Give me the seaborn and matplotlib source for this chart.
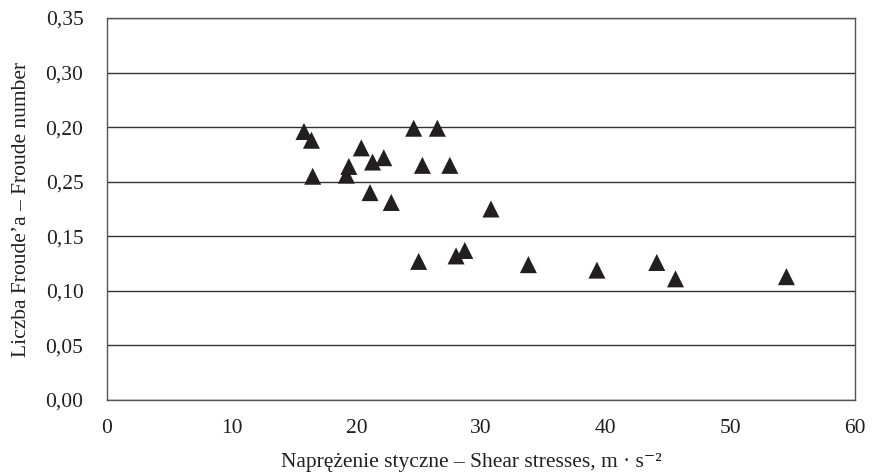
import matplotlib
matplotlib.use("Agg")
import matplotlib.pyplot as plt
import seaborn as sns
import pandas as pd

shear = [15.8, 16.4, 16.5, 19.2, 19.4, 20.4, 21.1, 21.3, 22.2, 22.8, 24.6, 25.0,
         25.3, 26.5, 27.5, 28.0, 28.7, 30.8, 33.8, 39.3, 44.1, 45.6, 54.5]
froude = [0.246, 0.238, 0.205, 0.206, 0.214, 0.231, 0.190, 0.218, 0.222, 0.181, 0.249, 0.127,
          0.215, 0.249, 0.215, 0.132, 0.137, 0.175, 0.124, 0.119, 0.126, 0.111, 0.113]
x_ticks = [0, 10, 20, 30, 40, 50, 60]
y_ticks = [0.00, 0.05, 0.10, 0.15, 0.20, 0.25, 0.30, 0.35]
y_tick_labels = ["0,00", "0,05", "0,10", "0,15", "0,25", "0,20", "0,30", "0,35"]
x_label = "Naprężenie styczne – Shear stresses, m · s⁻²"
y_label = "Liczba Froude’a – Froude number"

df = pd.DataFrame({"shear": shear, "froude": froude})

sns.set_style("white")
plt.rcParams["font.family"] = ["Liberation Serif", "DejaVu Serif"]

FS = 15.5
fig = plt.figure(figsize=(8.94, 4.76), dpi=100)
ax = fig.add_axes([107/894, 1-400/476, (855-107)/894, (400-18)/476])

sns.scatterplot(data=df, x="shear", y="froude", marker="^", s=150,
                color="#231f20", edgecolor="none", ax=ax, zorder=3)

ax.set_xlim(0, 60)
ax.set_ylim(0, 0.35)
ax.set_xticks(x_ticks)
ax.set_xticklabels([str(t) for t in x_ticks], fontsize=FS, color="#231f20")
ax.set_yticks(y_ticks)
ax.set_yticklabels(y_tick_labels, fontsize=FS, color="#231f20")
ax.tick_params(axis="both", length=0)
ax.tick_params(axis="y", pad=17)
ax.tick_params(axis="x", pad=14)

ax.grid(axis="y", color="#333333", linewidth=1.0)
ax.grid(axis="x", visible=False)
ax.set_axisbelow(True)
for sp in ax.spines.values():
    sp.set_visible(True)
    sp.set_color("#555555")
    sp.set_linewidth(1.0)

ax.set_xlabel(x_label, fontsize=FS, color="#231f20")
ax.set_ylabel(y_label, fontsize=FS, color="#231f20")
ax.xaxis.set_label_coords((471-107)/748, -(453-400)/382)
ax.yaxis.set_label_coords(-(107-31)/748, 0.5)

fig.savefig("out.png", dpi=100)
